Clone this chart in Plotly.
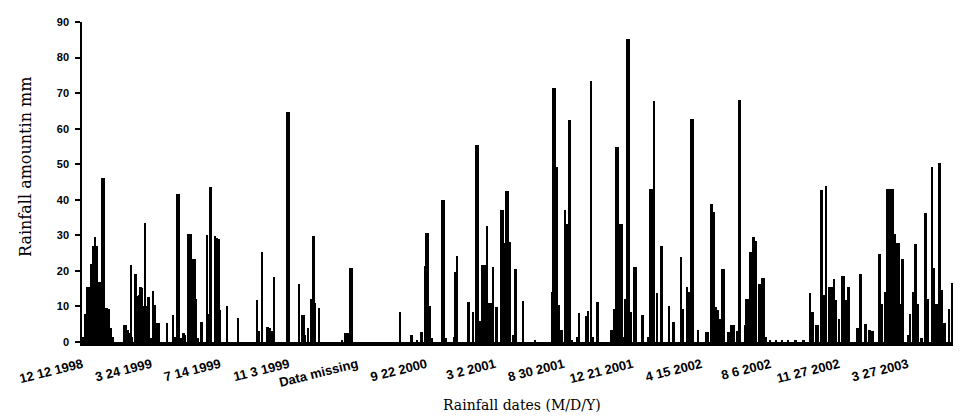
import plotly.graph_objects as go

# Category (day) index along the rainfall record and rainfall amount (mm)
day_index = [
    2, 6, 9, 12, 15, 18, 21, 24, 26, 28, 30, 33, 35, 38, 41, 44, 47, 50,
    69, 72, 75, 77, 80, 82, 88, 91, 94, 96, 98, 100, 103, 105, 108, 110, 113, 117, 120, 124, 126,
    140, 149, 153, 156, 159, 163, 167, 169, 175, 178, 182, 185, 187, 190, 196, 205, 208, 211,
    218, 221, 224, 227, 238, 256, 287, 290, 296, 305, 308, 311, 315, 337, 340, 356, 361, 364,
    366, 371, 377, 380, 383, 389,
    427, 433, 437, 440, 443,
    522, 540, 542, 550, 558, 563, 566, 568, 571, 575,
    591, 594, 597, 611, 613, 616, 634, 636, 642, 647, 650, 654, 658, 661, 665, 669, 671, 675,
    680, 682, 688, 691, 694, 697, 700, 702, 708, 711, 713, 724, 744,
    772, 774, 777, 780, 782, 784, 788, 793, 796, 801, 805, 813, 816, 828, 831, 836, 839, 847,
    870, 875, 877, 880, 883, 886, 888, 892, 895, 898, 900, 902, 907, 910, 920, 922, 930, 933,
    936, 940, 945, 951, 953, 964, 972, 984, 987, 994, 998, 1001, 1004, 1012, 1026, 1028, 1034,
    1038, 1041, 1044, 1048, 1051, 1054, 1062, 1067, 1070, 1077, 1080, 1089, 1092, 1095, 1098,
    1103, 1107, 1113, 1118, 1120, 1123, 1130,
    1140, 1150, 1160, 1172, 1185,
    1196, 1200, 1207, 1209, 1215, 1219, 1222, 1228, 1231, 1235, 1238, 1244, 1249, 1252, 1255,
    1259, 1274, 1279, 1287, 1294, 1299, 1310, 1314, 1319, 1323, 1326, 1329, 1332, 1335, 1338,
    1341, 1343, 1348, 1358, 1360, 1366, 1369, 1373, 1379, 1386, 1390, 1396, 1400, 1404, 1409,
    1412, 1417, 1424, 1429, 1433, 1440,
]
rain_mm = [
    1.5, 8, 15.5, 15.5, 22, 27, 29.5, 27, 7, 17, 17, 46, 46, 9.6, 9.6, 9.4, 4, 1.5,
    4.9, 4.9, 3.5, 2.5, 21.6, 1.5, 19, 13, 13.3, 15.5, 15.3, 10, 33.5, 10, 12.7, 12.7, 1, 14.3, 10.5, 5.3, 5.3,
    5.3, 7.7, 1.5, 41.5, 41.5, 1, 2.5, 2, 30.5, 30.5, 23.4, 23.4, 12, 1, 5.6, 30, 8, 43.5,
    29.7, 29.2, 29, 9, 10, 6.8, 11.8, 3, 25.3, 4.1, 4, 3, 18.2, 64.6, 64.6, 16.4, 7.7, 7.7,
    2, 4, 12.2, 29.7, 11, 9.5,
    0.5, 2.4, 2.4, 20.7, 20.7,
    8.3, 1.9, 1.9, 0.5, 2.7, 21.5, 30.6, 30.6, 10, 1,
    39.8, 39.8, 1, 1.5, 19.6, 24.3, 11.2, 11.2, 8.3, 55.5, 55.5, 6, 21.7, 21.7, 32.5, 11, 11, 21.2,
    9.8, 9.8, 37, 37, 27.8, 42.6, 42.6, 28, 2, 20.4, 20.4, 11.4, 0.5,
    14, 71.5, 71.5, 49.2, 10.5, 10.5, 3.5, 37, 33.3, 62.3, 0.5, 1.5, 8.2, 7.2, 8.6, 73.3, 1.5, 11.2,
    3.3, 9.4, 54.8, 54.8, 33.3, 33.3, 1.5, 12.2, 85.3, 85.3, 8.4, 8.4, 21, 21, 7.5, 7.5, 1.5, 42.9,
    42.9, 67.7, 13.7, 27, 27, 10, 5.7, 23.8, 9.4, 15.6, 14, 62.8, 62.8, 3.5, 2.8, 2.8, 38.9,
    36.5, 9.8, 9, 6.5, 20.4, 20.4, 2.7, 4.7, 4.7, 3.2, 68.2, 4.7, 12.2, 12.2, 25.3,
    29.5, 28.5, 16.2, 18, 18, 1.5, 0.5,
    0.6, 0.6, 0.5, 0.6, 0.7,
    13.8, 8.4, 4.7, 4.7, 42.8, 13.1, 44, 15.6, 15.6, 17.8, 11.7, 6.6, 18.7, 18.7, 11.9,
    15.6, 4, 19, 5, 3.5, 3, 24.8, 10.8, 14, 43.1, 43.1, 43.1, 43.1, 30.3, 27.8,
    27.8, 10.8, 23.4, 1.9, 8, 14, 27.5, 10.8, 1.2, 36.3, 12.2, 49.2, 20.7, 10.6, 50.3,
    14.5, 5.3, 9.4, 16.6, 18.6, 8,
]

tick_labels = [
    "12 12 1998", "3 24 1999", "7 14 1999", "11 3 1999", "Data missing",
    "9 22 2000", "3 2 2001", "8 30 2001", "12 21 2001", "4 15 2002",
    "8 6 2002", "11 27 2002", "3 27 2003",
]
TICK_STEP = 113          # categories between labelled ticks
N_CATEGORIES = 1442

fig = go.Figure(
    go.Bar(
        x=day_index,
        y=rain_mm,
        width=3.2,
        marker=dict(color="black", line=dict(width=0)),
        hoverinfo="x+y",
    )
)

# The page body adds an 8px offset, so the figure is sized to fit inside it.
fig.update_layout(
    width=953,
    height=412,
    margin=dict(l=74, r=1, t=14, b=78, autoexpand=False),
    paper_bgcolor="white",
    plot_bgcolor="white",
    showlegend=False,
    bargap=0,
    font=dict(family="Liberation Sans", color="black"),
)

fig.update_xaxes(
    range=[-0.5, N_CATEGORIES],
    automargin=False,
    tickmode="array",
    tickvals=[i * TICK_STEP for i in range(len(tick_labels))],
    ticktext=tick_labels,
    tickangle=-14,
    tickfont=dict(family="Liberation Sans", size=13, weight="bold", color="black"),
    ticklabelstandoff=6,
    showgrid=False,
    zeroline=False,
    showline=True,
    linecolor="black",
    linewidth=4,
    ticks="",
)

fig.update_yaxes(
    range=[0, 90],
    automargin=False,
    tickmode="array",
    tickvals=list(range(0, 91, 10)),
    tickfont=dict(family="Liberation Sans", size=11, weight="bold", color="black"),
    ticklabelstandoff=4,
    showgrid=False,
    zeroline=False,
    showline=True,
    linecolor="black",
    linewidth=1.5,
    ticks="outside",
    ticklen=5,
    tickwidth=1.5,
    tickcolor="black",
)

fig.add_annotation(
    text="Rainfall amountin mm",
    xref="paper", yref="paper",
    x=(17 - 74) / 878, y=(334 - 159) / 320,
    xanchor="center", yanchor="middle",
    textangle=-90, showarrow=False,
    font=dict(family="DejaVu Serif", size=16, color="black"),
)
fig.add_annotation(
    text="Rainfall dates (M/D/Y)",
    xref="paper", yref="paper",
    x=(514 - 74) / 878, y=(334 - 397) / 320,
    xanchor="center", yanchor="middle",
    showarrow=False,
    font=dict(family="DejaVu Serif", size=14, color="black"),
)

fig.write_html("out.html")
